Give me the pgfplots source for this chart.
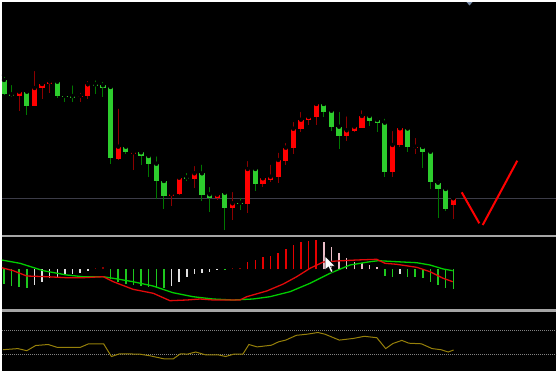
\documentclass[border=0pt]{standalone}
\usepackage{pgfplots}
\usepackage{pgfplotstable}
\pgfplotsset{compat=1.18}
\definecolor{gbody}{RGB}{45,205,45}
\definecolor{gwick}{RGB}{0,120,0}
\definecolor{rbody}{RGB}{255,0,0}
\definecolor{rwick}{RGB}{140,0,0}
\definecolor{sepgray}{RGB}{165,165,165}
\definecolor{hline}{RGB}{60,60,72}
\definecolor{hgreen}{RGB}{30,200,30}
\definecolor{hwhite}{RGB}{225,225,225}
\definecolor{hdred}{RGB}{140,0,0}
\definecolor{hred}{RGB}{230,0,0}
\definecolor{hpink}{RGB}{235,190,200}
\definecolor{lgreen}{RGB}{0,205,0}
\definecolor{lred}{RGB}{225,10,10}
\definecolor{olive}{RGB}{150,128,10}
\definecolor{dotgray}{RGB}{130,130,130}
\definecolor{tri}{RGB}{120,140,170}

% candles: i open high low close (screen rows, downwards)
\pgfplotstableread{
i o h l c
0 94.3 75 95 80
1 95.7 83 97 94.3
3 106 91 115 91.7
7 96.3 78 98 81.7
8 97 92.3 102.3 96
9 97.7 83.3 102.3 96
12 85.7 78.3 94 84.3
13 87.7 80 96.7 85.3
14 158.3 86 164 87
16 152.3 145.7 154.3 146.7
18 156 150 165 152.3
19 163.7 154.3 177.3 156
20 181.3 154.3 199 163.7
21 196 179.3 209.3 181
24 179.3 171 181.3 177.3
26 194.7 162.7 201 173.3
27 198 185 211.7 194.3
29 208 191.7 230 192.7
31 204 196 210 202.7
33 184.3 166.7 191.3 169
42 111.7 103.5 117 104
43 127 109 131 110.7
44 136.3 110 149.3 126.7
48 120.7 113.3 125.7 116
49 123 116 132.3 120
50 172.3 116.7 176.7 122.7
53 147.3 128 152.3 128.5
55 151.7 146.5 168.3 147
56 182 150.7 188.7 151.7
57 189 178.3 218.3 182.7
58 208.7 186 210.7 189
}\greenC
\pgfplotstableread{
i o h l c
2 91.7 89 110.7 95.7
4 88 69 106 106
5 84 83.5 99 88.3
6 81.7 77.7 93 83.7
10 96 91 101.7 97.3
11 84.3 79 99.3 96.3
15 146.7 106.7 160 159
17 152.3 151.5 170.3 153.7
22 194 191 205.7 196
23 177.7 176.7 195.3 193.7
25 173.3 164 188.3 179.3
28 194.7 191.7 200 198.3
30 203.3 190 220 207.7
32 169 159 213.3 203.7
34 178.3 176.7 187.3 184
35 176.7 162.7 181.7 180
36 160 150.7 183.3 177
37 147.7 141 165 160.7
38 128.7 120 154.3 148.3
39 119.7 110 131.7 129
40 117 116.5 125 120
41 104 103.5 125 117
45 130.3 114.3 141 136.3
46 126.7 124.3 132.3 130.7
47 116 108.3 128.3 128.3
51 145 129 176.7 172.3
52 128.3 127.5 146.7 145
54 146.7 136 154.3 147.7
59 198.3 197.5 219 204.7
}\redC

% histogram
\pgfplotstableread{
i v
0 -15
1 -16.7
2 -17.4
3 -19
14 -10
15 -12.4
16 -14.7
17 -15.7
18 -16.7
19 -17.4
20 -18
21 -18.7
29 -1
50 -6.7
51 -7.4
53 -7.4
54 -8
55 -9
56 -13
57 -15.7
58 -19
59 -20
}\hG
\pgfplotstableread{
i v
4 -15.7
5 -12.4
6 -8.4
7 -7.4
8 -5
9 -4.4
10 -3.4
11 -1.4
22 -16.7
23 -12.4
24 -8
25 -4.7
26 -3.4
27 -2.4
28 -1
52 -5
}\hW
\pgfplotstableread{
i v
12 1.3
13 2
30 1
31 1.6
}\hD
\pgfplotstableread{
i v
32 7
33 9.3
34 12
35 13.3
36 16.6
37 20
38 24.3
39 27
40 28.3
41 29.3
}\hR
\pgfplotstableread{
i v
42 27.6
43 22.6
44 16
45 11
46 7.6
47 6
48 4.3
49 2.6
}\hP

\pgfplotsset{panel/.style={scale only axis, width=554bp, xmin=2, xmax=556,
  axis lines=none, anchor=north west, clip=true}}

\begin{document}
\begin{tikzpicture}
\fill[white] (0,0) rectangle (558bp,-373bp);
\fill[black] (2bp,-2bp) rectangle (556bp,-371bp);
\fill[sepgray] (2bp,-234.7bp) rectangle (556bp,-236.7bp);
\fill[sepgray] (2bp,-309.3bp) rectangle (556bp,-311.7bp);

% price panel
\begin{axis}[panel, at={(2bp,-2bp)}, height=232.7bp, ymin=2, ymax=234.7, y dir=reverse]
\addplot[hline, line width=1bp] coordinates {(2,198.3) (556,198.3)};
\addplot[only marks, mark=none, error bars/.cd, y dir=plus, y explicit, error mark=none,
  error bar style={line width=1bp, color=gwick}]
  table[x expr=4+7.615*\thisrow{i}, y=h, y error plus expr=\thisrow{l}-\thisrow{h}] {\greenC};
\addplot[only marks, mark=none, error bars/.cd, y dir=plus, y explicit, error mark=none,
  error bar style={line width=1bp, color=rwick}]
  table[x expr=4+7.615*\thisrow{i}, y=h, y error plus expr=\thisrow{l}-\thisrow{h}] {\redC};
\addplot[only marks, mark=none, error bars/.cd, y dir=plus, y explicit, error mark=none,
  error bar style={line width=5.2bp, color=gbody}]
  table[x expr=4+7.615*\thisrow{i}, y expr={min(\thisrow{o},\thisrow{c})},
  y error plus expr={max(abs(\thisrow{o}-\thisrow{c}),1.4)}] {\greenC};
\addplot[only marks, mark=none, error bars/.cd, y dir=plus, y explicit, error mark=none,
  error bar style={line width=5.2bp, color=rbody}]
  table[x expr=4+7.615*\thisrow{i}, y expr={min(\thisrow{o},\thisrow{c})},
  y error plus expr={max(abs(\thisrow{o}-\thisrow{c}),1.4)}] {\redC};
\addplot[rbody, line width=2bp] coordinates {(461.7,192.3) (479.3,223.3)};
\addplot[rbody, line width=2bp] coordinates {(482.7,225) (517.3,160.7)};
\fill[tri] (axis cs:466.5,2) -- (axis cs:472.5,2) -- (axis cs:469.5,5.5) -- cycle;
\end{axis}

% MACD panel
\begin{axis}[panel, at={(2bp,-236.7bp)}, height=72.6bp, ymin=-40, ymax=32.6]
\addplot[ycomb, hgreen, line width=1.5bp] table[x expr=4+7.615*\thisrow{i}, y=v] {\hG};
\addplot[ycomb, hwhite, line width=1.5bp] table[x expr=4+7.615*\thisrow{i}, y=v] {\hW};
\addplot[ycomb, hdred, line width=1.5bp] table[x expr=4+7.615*\thisrow{i}, y=v] {\hD};
\addplot[ycomb, hred, line width=1.5bp] table[x expr=4+7.615*\thisrow{i}, y=v] {\hR};
\addplot[ycomb, hpink, line width=1.5bp] table[x expr=4+7.615*\thisrow{i}, y=v] {\hP};
\addplot[lgreen, line width=1.3bp] coordinates {
(1.7,9.3) (20,6) (43.3,-1.4) (66.7,-5.7) (83,-7.4) (103.3,-7.4) (113.3,-9) (133,-12.4)
(153,-16.7) (173,-23.4) (193,-27.4) (213,-29.7) (233,-30.7) (253,-29.7) (270,-27.4)
(290,-22.4) (310,-14) (330,-4) (350,4.3) (370,7.6) (378.3,8.6) (396.7,7.6) (416.7,6.6)
(430,4.3) (443.3,0.3) (452.7,-1.4)};
\addplot[lred, line width=1.3bp] coordinates {
(1.7,1.6) (13.3,-1.4) (26.7,-6.7) (46.7,-7.4) (66.7,-8.4) (83,-8.4) (103.3,-7.4)
(113.3,-12.4) (133,-20) (153.3,-24) (170,-31.4) (186.7,-30.7) (200,-29.7) (213.3,-30.7)
(240,-30.7) (246.7,-27.4) (266.7,-21.7) (283.3,-14.7) (296.7,-7.4) (310,1) (323.3,7.3)
(336.7,8.3) (356.7,9.3) (376.7,10) (385,6) (396.7,5) (416.7,2) (430,-2.4) (443.3,-9)
(452.7,-12.4)};
\draw[black, fill=white, line width=0.5bp] (axis cs:325,13.3) -- (axis cs:325,-0.7)
 -- (axis cs:328.5,2.3) -- (axis cs:331,-3.2) -- (axis cs:333,-2.2) -- (axis cs:330.5,3.3)
 -- (axis cs:335,3.3) -- cycle;
\end{axis}

% oscillator panel
\begin{axis}[panel, at={(2bp,-311.7bp)}, height=59.3bp, ymin=311.7, ymax=371, y dir=reverse]
\addplot[dotgray, line width=0.8bp, dash pattern=on 1bp off 1bp] coordinates {(2,330) (556,330)};
\addplot[dotgray, line width=0.8bp, dash pattern=on 1bp off 1bp] coordinates {(2,354) (556,354)};
\addplot[olive, line width=1bp] coordinates {
(2.9,349.7) (17.9,348.6) (26.8,350.7) (35.7,345.5) (48.2,344.5) (57,347.3) (80.4,347.3)
(88.6,343.8) (103.6,343.8) (111.4,356.5) (119.6,353.8) (139.3,354.1) (150,355.8)
(164.3,358.9) (173.2,358.9) (180.4,353.8) (187.5,354.1) (195.7,352) (205.4,354.8)
(217.9,354.8) (225.7,356.5) (233.9,354.1) (242.9,354.1) (248.9,344.5) (257.1,346.9)
(271.4,345.2) (278.6,341.8) (285.7,340.1) (296.4,335.3) (307.1,334.2) (317.9,332.5)
(325,334.2) (339.3,340.1) (353.6,338.4) (364.3,336.3) (376.8,337.7) (385.7,348.6)
(392.9,343.5) (401.8,340.4) (408.9,343.2) (421.4,343.8) (432.1,348.6) (441,349.7)
(448.2,352) (453.6,350)};
\end{axis}
\end{tikzpicture}
\end{document}
